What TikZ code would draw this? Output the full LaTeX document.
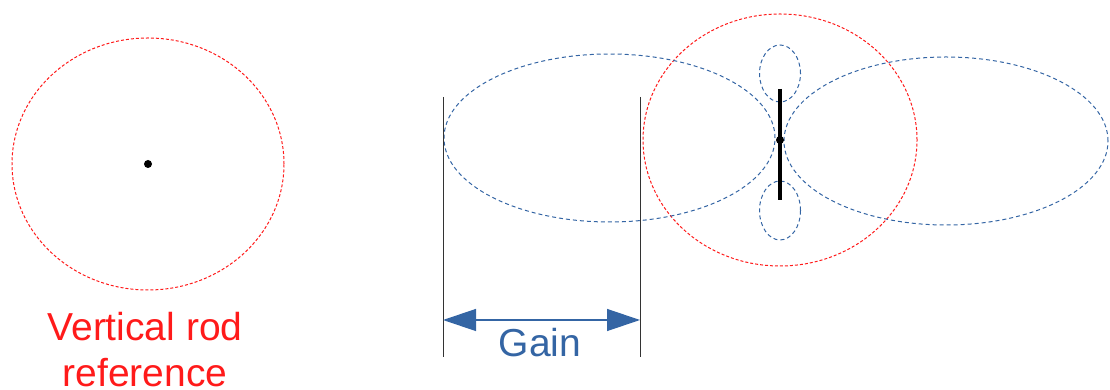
\documentclass[tikz,border=0pt]{standalone}
\usepackage{fontspec}
\setmainfont{Liberation Sans}
\usetikzlibrary{arrows.meta}
\definecolor{refred}{HTML}{FF1A1A}
\definecolor{lobeblue}{HTML}{3465A4}
\definecolor{rulegray}{HTML}{333333}

\begin{document}
\begin{tikzpicture}[x=1pt,y=1pt,line cap=butt,line join=round,
  refcircle/.style={draw=refred,line width=1pt,dash pattern=on 3pt off 2pt},
  lobe/.style={draw=lobeblue,line width=1pt,dash pattern=on 4pt off 3pt},
  feed/.style={circle,fill=black,inner sep=0pt,minimum size=8pt},
  rule/.style={draw=rulegray,line width=.9pt},
  big/.style={font=\fontsize{39}{46}\selectfont,inner sep=0pt}]
\useasboundingbox (0,0) rectangle (1110,390);

% Vertical rod seen alone: uniform reference pattern.
\draw[refcircle] (148,226) ellipse (136 and 126);
\node[feed] (rodA) at (148,226) {};
\node[big,text=refred,align=center,anchor=north] (refLabel) at (145,78)
  {Vertical rod\\reference};

% Same rod with lobes: red reference, blue main lobes, small side lobes.
\draw[refcircle] (780,250) ellipse (137 and 126);
\draw[lobe] (609.5,252) ellipse (165.5 and 84);
\draw[lobe] (946,249) ellipse (162 and 84);
\foreach \yy/\ry in {316.5/28.5,179.5/29.5}
  \draw[lobe] (780,\yy) ellipse (20.5 and \ry);
\coordinate (rodTop) at (780,301);
\coordinate (rodBot) at (780,190);
\draw[line width=4pt] (rodTop) -- (rodBot);
\node[feed] (rodB) at (780,250) {};

% Gain span between the reference edge and the lobe edge.
\foreach \x/\name in {443/gainL,640/gainR}
{
  \coordinate (\name top) at (\x,293);
  \coordinate (\name) at (\x,70);
  \draw[rule] (\name top) -- (\x,33);
}
\draw[draw=lobeblue,line width=1.3pt,
  {Triangle[length=33pt,width=22pt]}-{Triangle[length=33pt,width=22pt]}]
  (gainL) -- (gainR);
\node[big,text=lobeblue,anchor=base] (gain) at (540,33) {Gain};
\end{tikzpicture}
\end{document}
